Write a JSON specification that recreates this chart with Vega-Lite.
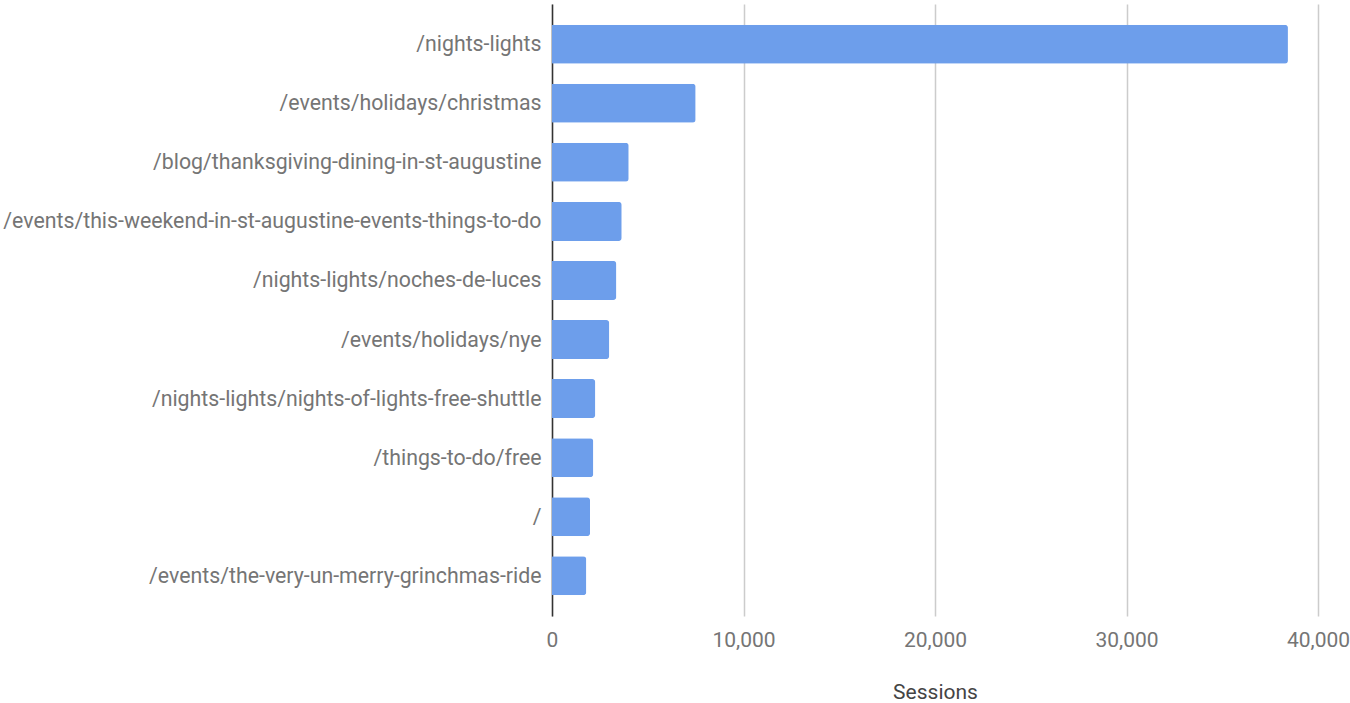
{
  "$schema": "https://vega.github.io/schema/vega-lite/v6.json",
  "autosize": {"type": "none"},
  "padding": {"left": 552, "top": 4, "right": 32, "bottom": 87},
  "width": 766,
  "height": 612,
  "background": "white",
  "data": {
    "values": [
      {"page": "/nights-lights", "sessions": 38430},
      {"page": "/events/holidays/christmas", "sessions": 7500},
      {"page": "/blog/thanksgiving-dining-in-st-augustine", "sessions": 4005},
      {"page": "/events/this-weekend-in-st-augustine-events-things-to-do", "sessions": 3640},
      {"page": "/nights-lights/noches-de-luces", "sessions": 3360},
      {"page": "/events/holidays/nye", "sessions": 2990},
      {"page": "/nights-lights/nights-of-lights-free-shuttle", "sessions": 2260},
      {"page": "/things-to-do/free", "sessions": 2155},
      {"page": "/", "sessions": 1985},
      {"page": "/events/the-very-un-merry-grinchmas-ride", "sessions": 1790}
    ]
  },
  "config": {
    "view": {"stroke": null},
    "font": "Roboto"
  },
  "mark": {"type": "bar", "color": "#6d9eeb", "cornerRadiusEnd": 3},
  "encoding": {
    "y": {
      "field": "page",
      "type": "nominal",
      "sort": null,
      "scale": {"paddingInner": 0.34, "paddingOuter": 0.35},
      "axis": {
        "title": null,
        "domain": true,
        "domainColor": "#333333",
        "domainWidth": 1.5,
        "ticks": false,
        "labelPadding": 11,
        "labelLimit": 0,
        "labelFont": "Roboto",
        "labelFontSize": 21.3,
        "labelOffset": 1,
        "labelColor": "#757575",
        "grid": false
      }
    },
    "x": {
      "field": "sessions",
      "type": "quantitative",
      "scale": {"domain": [0, 40000], "nice": false},
      "axis": {
        "title": "Sessions",
        "values": [0, 10000, 20000, 30000, 40000],
        "format": ",d",
        "domain": false,
        "ticks": false,
        "grid": true,
        "gridColor": "#cccccc",
        "gridWidth": 1.5,
        "labelFlush": false,
        "labelPadding": 13,
        "labelFont": "Roboto",
        "labelFontSize": 21,
        "labelColor": "#757575",
        "titleFont": "Roboto",
        "titleFontSize": 21,
        "titleFontWeight": "normal",
        "titleColor": "#444444",
        "titlePadding": 31
      }
    }
  }
}
